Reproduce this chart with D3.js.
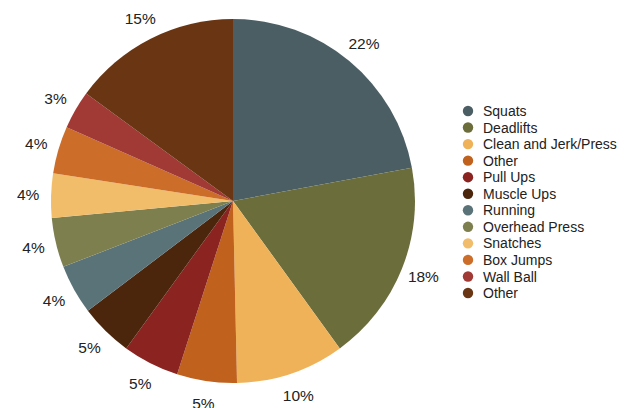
<!DOCTYPE html>
<html>
<head>
<meta charset="utf-8">
<script src="https://cdn.jsdelivr.net/npm/d3@7"></script>
<style>
html,body{margin:0;padding:0;background:#fff;}
svg{display:block;font-family:"Liberation Sans",Arial,Helvetica,sans-serif;}
</style>
</head>
<body>
<svg id="chart" width="625" height="408"></svg>
<script>
const categories = ["Squats","Deadlifts","Clean and Jerk/Press","Other","Pull Ups","Muscle Ups","Running","Overhead Press","Snatches","Box Jumps","Wall Ball","Other"];
const values = [22.0, 17.9, 9.6, 5.3, 5.0, 4.7, 4.4, 4.4, 3.9, 4.2, 3.4, 14.9];
const colors = ["#4b5e64","#6b6d3b","#efb258","#c0621e","#8b2321","#4c260c","#5a7379","#7d7f4f","#f1bd6a","#cc6e2a","#a13935","#6a3513"];

const svg = d3.select("#chart");
const cx = 233, cy = 201, R = 182, labelR = 205;

const pie = d3.pie().sort(null).value(d => d.v);
const data = categories.map((c,i)=>({c, v: values[i], col: colors[i], i}));
const arcs = pie(data);
const arc = d3.arc().innerRadius(0).outerRadius(R);
const labelArc = d3.arc().innerRadius(labelR).outerRadius(labelR);

const g = svg.append("g").attr("transform", `translate(${cx},${cy})`);
g.selectAll("path").data(arcs).join("path")
  .attr("d", arc)
  .attr("fill", d => d.data.col);

g.selectAll("text").data(arcs).join("text")
  .attr("transform", d => `translate(${labelArc.centroid(d)})`)
  .attr("text-anchor", "middle")
  .attr("dy", "0.35em")
  .attr("font-size", 15.5)
  .attr("fill", "#222")
  .text(d => Math.round(d.data.v) + "%");

const legend = svg.append("g").attr("transform", "translate(468,111)");
const ly = d3.scalePoint().domain(d3.range(categories.length)).range([0, 182]);
const items = legend.selectAll("g").data(data).join("g")
  .attr("transform", d => `translate(0,${ly(d.i)})`);
items.append("circle").attr("r", 5.2).attr("fill", d => d.col);
items.append("text").attr("x", 15).attr("dy", "0.36em")
  .attr("font-size", 14).attr("fill", "#222").text(d => d.c);
</script>
</body>
</html>
